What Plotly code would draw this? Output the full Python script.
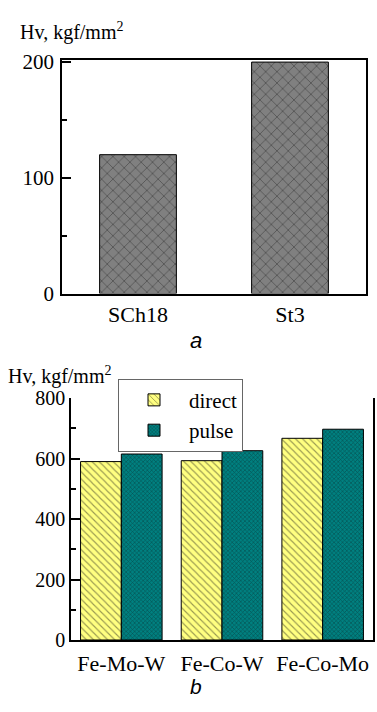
import plotly.graph_objects as go

# ---- data ----
top_categories = ["SCh18", "St3"]
top_values = [120, 200]

bottom_categories = ["Fe-Mo-W", "Fe-Co-W", "Fe-Co-Mo"]
direct_values = [590, 593, 667]
pulse_values = [615, 626, 697]

W, H = 377, 712
def px_x(x):
    return x / W
def px_y(y):
    return 1 - y / H

SERIF = "Liberation Serif"

fig = go.Figure()

fig.add_trace(go.Bar(
    x=top_categories, y=top_values, xaxis="x", yaxis="y", showlegend=False,
    width=0.505,
    marker=dict(color="#808080", line=dict(color="black", width=1),
                pattern=dict(shape="x", fgcolor="#1a1a1a", bgcolor="#808080",
                             size=8, solidity=0.18)),
))

fig.add_trace(go.Bar(
    x=bottom_categories, y=direct_values, name="direct", xaxis="x2", yaxis="y2",
    marker=dict(color="#ffff80", line=dict(color="black", width=1),
                pattern=dict(shape="\\", fgcolor="#333322", bgcolor="#ffff80",
                             size=5, solidity=0.22)),
))
fig.add_trace(go.Bar(
    x=bottom_categories, y=pulse_values, name="pulse", xaxis="x2", yaxis="y2",
    marker=dict(color="#008080", line=dict(color="black", width=1),
                pattern=dict(shape="x", fgcolor="#0a1f1f", bgcolor="#008080",
                             size=3, solidity=0.35)),
))

def axis_common(size):
    return dict(showgrid=False, zeroline=False, linecolor="black", linewidth=1.5,
                tickfont=dict(family=SERIF, size=size, color="black"))

fig.update_layout(
    width=W, height=H,
    margin=dict(l=0, r=0, t=0, b=0),
    paper_bgcolor="white", plot_bgcolor="white",
    barmode="group",
    bargap=0.19,
    xaxis=dict(domain=[px_x(62), px_x(366)], anchor="y", range=[-0.5, 1.5],
               showline=True, mirror=True, ticks="", ticklabelstandoff=0, **axis_common(22)),
    yaxis=dict(domain=[px_y(292), px_y(51)], anchor="x", range=[0, 201.5],
               showline=True, mirror=True, ticks="inside", ticklen=9, tickwidth=1.5,
               tickcolor="black", dtick=100, ticklabelstandoff=2,
               minor=dict(ticks="inside", ticklen=5, dtick=50, tickcolor="black", tickwidth=1.5),
               **axis_common(21)),
    xaxis2=dict(domain=[px_x(71), px_x(373)], anchor="y2", range=[-0.5, 2.5],
                showline=True, mirror=False, ticks="", ticklabelstandoff=3, **axis_common(22)),
    yaxis2=dict(domain=[px_y(650), px_y(400)], anchor="x2", range=[0, 800],
                showline=True, mirror=True, ticks="inside", ticklen=9, tickwidth=1.5,
                tickcolor="black", dtick=200, ticklabelstandoff=0,
                minor=dict(ticks="inside", ticklen=5, dtick=100, tickcolor="black", tickwidth=1.5),
                **axis_common(20)),
    legend=dict(x=px_x(118), y=px_y(380), xanchor="left", yanchor="top",
                bordercolor="#666666", borderwidth=1, bgcolor="white",
                font=dict(family=SERIF, size=21, color="black"),
                itemwidth=60, tracegroupgap=0),
    annotations=[
        dict(text="Hv, kgf/mm<sup>2</sup>", x=px_x(18), y=px_y(21), xref="paper", yref="paper",
             xanchor="left", yanchor="middle", showarrow=False,
             font=dict(family=SERIF, size=20, color="black")),
        dict(text="Hv, kgf/mm<sup>2</sup>", x=px_x(6), y=px_y(377), xref="paper", yref="paper",
             xanchor="left", yanchor="middle", showarrow=False,
             font=dict(family=SERIF, size=20, color="black")),
        dict(text="<i>a</i>", x=px_x(196), y=px_y(340), xref="paper", yref="paper",
             xanchor="center", yanchor="middle", showarrow=False,
             font=dict(family="Liberation Sans", size=22, color="black")),
        dict(text="<i>b</i>", x=px_x(196), y=px_y(712), xref="paper", yref="paper",
             xanchor="center", yanchor="bottom", showarrow=False,
             font=dict(family="Liberation Sans", size=21, color="black")),
    ],
)

fig.write_html("out.html")
